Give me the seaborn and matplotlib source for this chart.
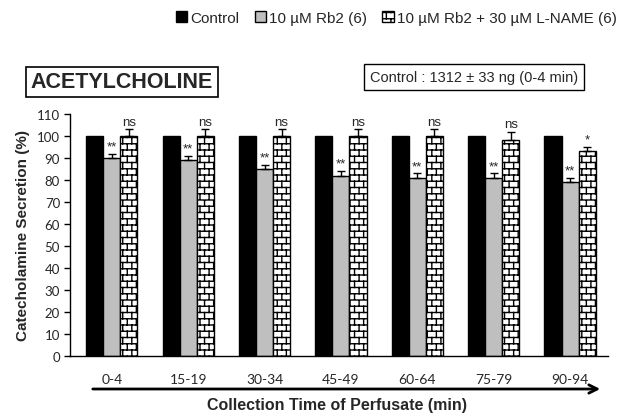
import warnings
import numpy as np
import pandas as pd
import matplotlib
matplotlib.use("Agg")
import matplotlib.pyplot as plt
import matplotlib.hatch as mhatch
from matplotlib.path import Path
import seaborn as sns

warnings.filterwarnings("ignore")

# data
periods = ["0-4", "15-19", "30-34", "45-49", "60-64", "75-79", "90-94"]
groups = ["Control", "10 µM Rb2 (6)", "10 µM Rb2 + 30 µM L-NAME (6)"]
control = [100, 100, 100, 100, 100, 100, 100]
rb2 = [90, 89, 85, 82, 81, 81, 79]
rb2_err = [2, 2, 2, 2, 2, 2, 2]
lname = [100, 100, 100, 100, 100, 98, 93]
lname_err = [3, 3, 3, 3, 3, 4, 2]
rb2_sig = ["**", "**", "**", "**", "**", "**", "**"]
lname_sig = ["ns", "ns", "ns", "ns", "ns", "ns", "*"]
colors = ["black", "#bfbfbf", "white"]


# brick hatch ('b'), matplotlib has none built in
class BrickHatch(mhatch.HatchPatternBase):
    def __init__(self, hatch, density):
        n = hatch.count("b")
        self.rows = 16 * n
        self.cols = 11 * n
        if n:
            self.num_vertices = ((self.rows + 1) + self.rows * (self.cols + 1)) * 2
        else:
            self.num_vertices = 0

    def set_vertices_and_codes(self, vertices, codes):
        k = 0
        for i in range(self.rows + 1):
            y = i / self.rows
            vertices[k] = (0.0, y)
            vertices[k + 1] = (1.0, y)
            k += 2
        for i in range(self.rows):
            y0 = i / self.rows
            y1 = (i + 1) / self.rows
            for j in range(self.cols + 1):
                x = (j + 0.5 * (i % 2)) / self.cols
                vertices[k] = (x, y0)
                vertices[k + 1] = (x, y1)
                k += 2
        codes[0::2] = Path.MOVETO
        codes[1::2] = Path.LINETO


mhatch._hatch_types.append(BrickHatch)

sns.set_style("white")
plt.rcParams["font.family"] = ["Liberation Sans", "DejaVu Sans"]
plt.rcParams["hatch.linewidth"] = 1.0

df = pd.DataFrame({
    "period": periods * 3,
    "group": [groups[0]] * 7 + [groups[1]] * 7 + [groups[2]] * 7,
    "value": control + rb2 + lname,
})

fig = plt.figure(figsize=(6.29, 4.14), dpi=100)
ax = fig.add_axes([0.111, 0.138, 0.856, 0.584])

sns.barplot(data=df, x="period", y="value", hue="group", hue_order=groups,
            palette=colors, width=0.67, gap=0, errorbar=None, saturation=1,
            edgecolor="black", linewidth=1, ax=ax)
ax.get_legend().remove()
bars = list(ax.containers[:3])

for p in bars[2].patches:
    p.set_hatch("b")

# error bars (upper only) and significance marks
for cont, vals, errs, sig in [(bars[1], rb2, rb2_err, rb2_sig),
                              (bars[2], lname, lname_err, lname_sig)]:
    xs = [p.get_x() + p.get_width() / 2 for p in cont.patches]
    ax.errorbar(xs, vals, yerr=[np.zeros(len(vals)), errs], fmt="none",
                ecolor="black", elinewidth=1, capsize=3, capthick=1, zorder=5)
    for x, v, e, s in zip(xs, vals, errs, sig):
        ax.text(x, v + e + 0.6, s, ha="center", va="bottom", fontsize=9.5,
                family=["Liberation Sans"])

ax.set_ylim(0, 110)
ax.set_xlim(-0.55, 6.5)
ax.set_yticks(range(0, 111, 10))
ax.set_xlabel("")
ax.set_ylabel("Catecholamine Secretion (%)", fontsize=11, fontweight="bold",
              labelpad=5)
sns.despine(ax=ax)
for s in ["left", "bottom"]:
    ax.spines[s].set_color("black")
    ax.spines[s].set_linewidth(1)
ax.tick_params(axis="y", length=4, width=1, color="black", left=True,
               labelsize=9.5, pad=3)
ax.tick_params(axis="x", length=0, labelsize=10, pad=12)
for lab in ax.get_xticklabels() + ax.get_yticklabels():
    lab.set_family(["Lato", "DejaVu Sans"])

# legend on top
handles = [c.patches[0] for c in bars]
fig.legend(handles, groups, loc="center", bbox_to_anchor=(0.63, 0.955),
           ncol=3, frameon=False, fontsize=11, handlelength=0.75,
           handleheight=0.75, handletextpad=0.2, columnspacing=1.0)

fig.text(0.194, 0.80, "ACETYLCHOLINE", ha="center", va="center",
         fontsize=15.5, fontweight="bold",
         bbox=dict(boxstyle="square,pad=0.22", fc="white", ec="black", lw=1.2))
fig.text(0.754, 0.811, "Control : 1312 ± 33 ng (0-4 min)", ha="center",
         va="center", fontsize=10.5,
         bbox=dict(boxstyle="square,pad=0.4", fc="white", ec="black", lw=1))

# time arrow and x title
ax.annotate("", xy=(603 / 629, 1 - 390 / 414), xytext=(90 / 629, 1 - 390 / 414),
            xycoords="figure fraction", textcoords="figure fraction",
            arrowprops=dict(arrowstyle="->,head_length=0.6,head_width=0.3",
                            lw=2, color="black"), annotation_clip=False)
fig.text(0.535, 0.02, "Collection Time of Perfusate (min)", ha="center",
         va="center", fontsize=11.5, fontweight="bold")

fig.savefig("out.png", dpi=100)
